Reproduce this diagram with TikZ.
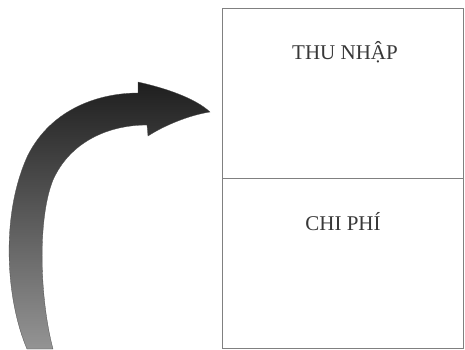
\documentclass[tikz,border=0pt]{standalone}
\usepackage{fontspec}
\setmainfont{Liberation Serif}
\begin{document}
\begin{tikzpicture}[x=1pt,y=-1pt,
  panel/.style={draw=black!50,line width=1.2pt,fill=white,minimum width=241pt,minimum height=170pt,inner sep=0pt},
  label/.style={font=\fontsize{21}{24}\selectfont,text=black!78}]
\useasboundingbox (0,0) rectangle (465,349);
\node[panel,anchor=north west] (income) at (222,8) {};
\node[panel,anchor=north west] (expense) at (222,178) {};
\node[label] (t1) at (345,52) {THU NHẬP};
\node[label] (t2) at (343,222) {CHI PHÍ};
\shade[top color=black!88,bottom color=black!42,draw=black!70,line width=0.3pt]
  (27,349) .. controls (6,300) and (0,215) .. (28,155)
  .. controls (52,108) and (100,93) .. (138,93)
  -- (138,82) .. controls (165,88) and (195,98) .. (210,112)
  .. controls (190,115) and (165,125) .. (148,136)
  -- (147,125) .. controls (108,125) and (70,142) .. (53,180)
  .. controls (37,220) and (40,300) .. (53,349) -- cycle;
\end{tikzpicture}
\end{document}
